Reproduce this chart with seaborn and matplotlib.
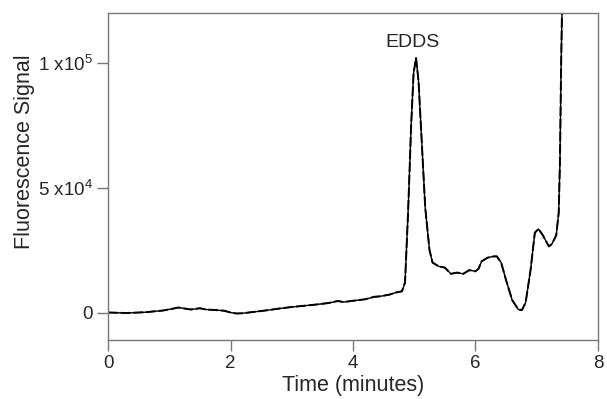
import numpy as np
import matplotlib
matplotlib.use("Agg")
import matplotlib.pyplot as plt
import seaborn as sns
import pandas as pd

# chromatogram trace (time in minutes, signal in counts)
time_min = [0, 0.3, 0.6, 0.9, 1.05, 1.15, 1.25, 1.35, 1.5, 1.6, 1.75, 1.9, 2.0, 2.1, 2.2,
            2.4, 2.6, 2.8, 3.0, 3.2, 3.4, 3.6, 3.75, 3.85, 4.0, 4.1, 4.2, 4.35, 4.45, 4.6,
            4.7, 4.8, 4.85, 4.9, 4.95, 4.99, 5.03, 5.07, 5.12, 5.18, 5.25, 5.3, 5.4, 5.5,
            5.6, 5.7, 5.8, 5.9, 6.0, 6.05, 6.1, 6.2, 6.3, 6.35, 6.42, 6.5, 6.6, 6.7, 6.76,
            6.82, 6.9, 6.97, 7.03, 7.1, 7.2, 7.25, 7.32, 7.36, 7.38, 7.4, 7.42]
signal = [0, -200, 100, 800, 1500, 2000, 1600, 1200, 1700, 1200, 1000, 700, 0, -400, -300,
          300, 900, 1600, 2200, 2700, 3200, 3800, 4600, 4200, 4700, 5000, 5300, 6300, 6500,
          7200, 8000, 8500, 12000, 40000, 75000, 96000, 102000, 93000, 70000, 42000, 25000,
          20000, 18500, 18000, 15500, 16000, 15500, 17000, 16500, 17500, 20500, 22000,
          22500, 22500, 20000, 13000, 5000, 1200, 1000, 4000, 17000, 32000, 33500, 31000,
          26500, 27500, 31000, 40000, 60000, 100000, 130000]

xticks = [0, 2, 4, 6, 8]
yticks = [0, 50000, 100000]
ytick_labels = ["0", "5 x10$^{4}$", "1 x10$^{5}$"]

df = pd.DataFrame({"t": time_min, "s": signal})

sns.set_style("white")
plt.rcParams["font.family"] = ["Liberation Sans", "DejaVu Sans"]
plt.rcParams["mathtext.fontset"] = "custom"
plt.rcParams["mathtext.rm"] = "Liberation Sans"

fig = plt.figure(figsize=(6.07, 3.99), dpi=100)
ax = fig.add_axes([0.178, 0.148, 0.807, 0.819])

sns.lineplot(data=df, x="t", y="s", ax=ax, color="black", linewidth=1.0)
sns.lineplot(data=df, x="t", y="s", ax=ax, color="black", linewidth=1.4, linestyle=(0, (5, 1.5)))

ax.set_xlim(0, 8)
ax.set_ylim(-11000, 120000)
ax.set_xticks(xticks)
ax.set_yticks(yticks)
ax.set_yticklabels(ytick_labels)
ax.tick_params(direction="out", length=8, width=1, color="#777777", labelsize=13.5, pad=3,
               bottom=True, left=True)
for sp in ax.spines.values():
    sp.set_color("#777777")
    sp.set_linewidth(1.0)

ax.set_xlabel("Time (minutes)", fontsize=15.5, labelpad=2)
ax.set_ylabel("Fluorescence Signal", fontsize=15.5, labelpad=6)
ax.yaxis.set_label_coords(-0.15, 0.575)
ax.text(4.98, 105000, "EDDS", fontsize=14, ha="center", va="bottom")

fig.savefig("out.png", dpi=100)
